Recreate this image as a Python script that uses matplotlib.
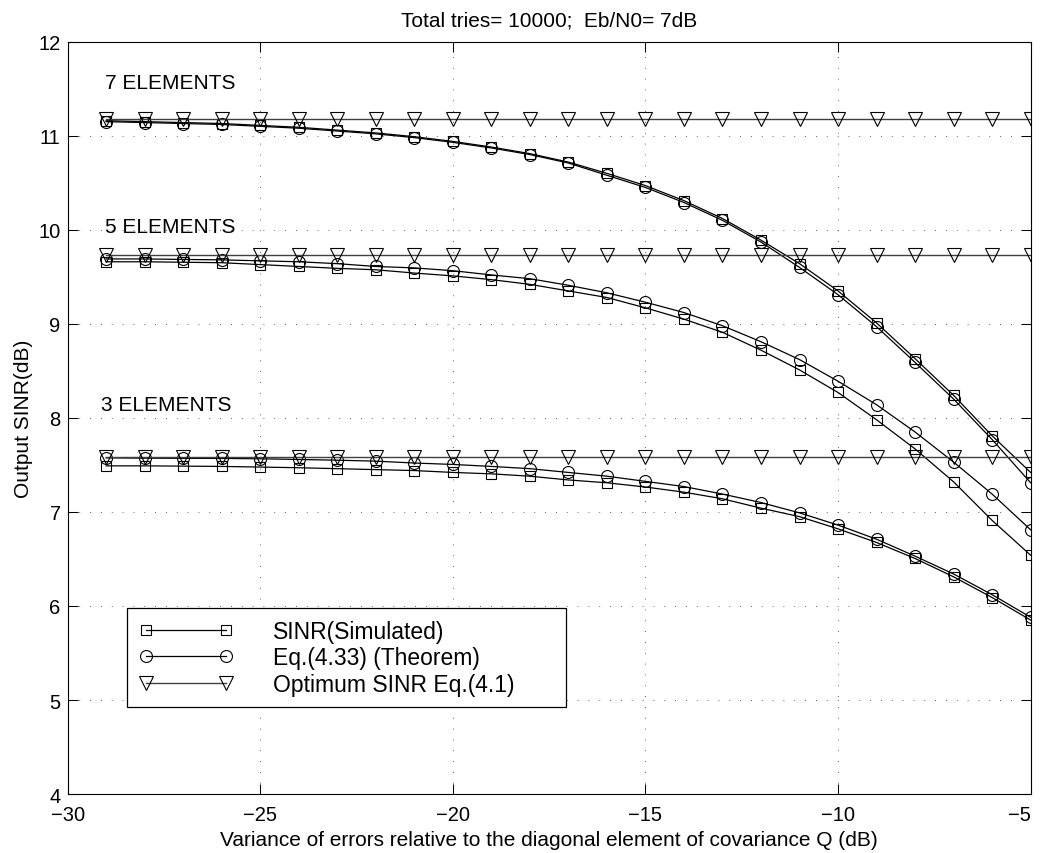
import numpy as np
import matplotlib
matplotlib.use("Agg")
import matplotlib.pyplot as plt

plt.rcParams['font.family'] = ['Liberation Sans', 'DejaVu Sans']

# variance of errors (dB)
var_db = [-29, -28, -27, -26, -25, -24, -23, -22, -21, -20, -19, -18, -17,
          -16, -15, -14, -13, -12, -11, -10, -9, -8, -7, -6, -5]

# 7 elements
sim_7 = [11.16, 11.15, 11.14, 11.13, 11.11, 11.09, 11.06, 11.03, 10.99, 10.94,
         10.88, 10.81, 10.72, 10.60, 10.47, 10.31, 10.12, 9.89, 9.64, 9.35,
         9.01, 8.63, 8.24, 7.81, 7.42]
thm_7 = [11.15, 11.14, 11.13, 11.12, 11.10, 11.08, 11.05, 11.02, 10.98, 10.93,
         10.87, 10.80, 10.71, 10.58, 10.45, 10.29, 10.10, 9.87, 9.60, 9.31,
         8.97, 8.59, 8.20, 7.77, 7.31]
opt_7 = [11.18] * 25

# 5 elements
sim_5 = [9.66, 9.66, 9.655, 9.65, 9.63, 9.61, 9.59, 9.575, 9.54, 9.51,
         9.47, 9.42, 9.35, 9.28, 9.17, 9.05, 8.91, 8.72, 8.51, 8.27,
         7.98, 7.67, 7.32, 6.91, 6.54]
thm_5 = [9.69, 9.69, 9.685, 9.68, 9.67, 9.66, 9.64, 9.61, 9.595, 9.565,
         9.52, 9.48, 9.41, 9.33, 9.23, 9.12, 8.98, 8.81, 8.62, 8.39,
         8.14, 7.85, 7.53, 7.19, 6.81]
opt_5 = [9.73] * 25

# 3 elements
sim_3 = [7.49, 7.49, 7.487, 7.484, 7.477, 7.47, 7.46, 7.45, 7.44, 7.42,
         7.405, 7.38, 7.34, 7.31, 7.265, 7.21, 7.14, 7.04, 6.95, 6.82,
         6.675, 6.505, 6.31, 6.09, 5.85]
thm_3 = [7.575, 7.572, 7.57, 7.569, 7.565, 7.558, 7.55, 7.54, 7.52, 7.505,
         7.484, 7.46, 7.42, 7.38, 7.325, 7.27, 7.19, 7.10, 6.99, 6.86,
         6.71, 6.53, 6.34, 6.12, 5.88]
opt_3 = [7.58] * 25

labels = ['SINR(Simulated)', 'Eq.(4.33) (Theorem)', 'Optimum SINR Eq.(4.1)']

fig = plt.figure(figsize=(10.4, 8.54), dpi=100)
ax = fig.add_axes([0.065, 0.069, 0.926, 0.881])

sq = dict(marker='s', ms=7.7, mfc='none', mec='black', mew=0.8, color='black', lw=0.9)
ci = dict(marker='o', ms=8.6, mfc='none', mec='black', mew=0.8, color='black', lw=0.9)
tr = dict(marker='v', ms=9.5, mfc='none', mec='black', mew=0.8, color='0.25', lw=1.0)

first = True
for sim, thm, opt in [(sim_7, thm_7, opt_7), (sim_5, thm_5, opt_5), (sim_3, thm_3, opt_3)]:
    ax.plot(var_db, sim, label=labels[0] if first else None, **sq)
    ax.plot(var_db, thm, label=labels[1] if first else None, **ci)
    ax.plot(var_db, opt, label=labels[2] if first else None, **tr)
    first = False

ax.text(-29.02, 11.57, '7 ELEMENTS', fontsize=15, va='center', ha='left')
ax.text(-29.02, 10.04, '5 ELEMENTS', fontsize=15, va='center', ha='left')
ax.text(-29.13, 8.14, '3 ELEMENTS', fontsize=15, va='center', ha='left')

ax.set_xlim(-30, -5)
ax.set_ylim(4, 12)
ax.set_xticks([-30, -25, -20, -15, -10, -5])
ax.set_yticks(range(4, 13))
ax.grid(True, color='0.2', linestyle=(0, (1, 12)), linewidth=0.6)
ax.tick_params(direction='in', length=7, width=0.75, top=True, right=True,
               labelsize=14.5)
ax.tick_params(axis='x', pad=8)
ax.tick_params(axis='y', pad=5)
# keep the last x label inside the figure
ax.get_xticklabels()[-1].set_horizontalalignment('right')
for s in ax.spines.values():
    s.set_linewidth(0.8)

ax.set_title('Total tries= 10000;  Eb/N0= 7dB', fontsize=15, pad=12)
ax.set_xlabel('Variance of errors relative to the diagonal element of covariance Q (dB)',
              fontsize=15, labelpad=4)
ax.set_ylabel('Output SINR(dB)', fontsize=15, labelpad=4)

leg = ax.legend(loc='upper left', bbox_to_anchor=(0.0618, 0.117, 0.4556, 0.1303),
                mode='expand', fontsize=16.5, numpoints=2, handlelength=4.1,
                handletextpad=1.75, labelspacing=0.145, borderpad=0.52, borderaxespad=0,
                fancybox=False, framealpha=1, edgecolor='black')
leg.get_frame().set_linewidth(0.9)

fig.savefig('out.png', dpi=100)
